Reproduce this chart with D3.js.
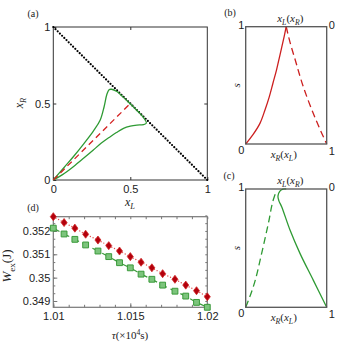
<!DOCTYPE html>
<html>
<head>
<meta charset="utf-8" />
<script src="https://d3js.org/d3.v7.min.js"></script>
<style>
  body { margin: 0; background: #fff; }
  .tick text { font-family: "Liberation Sans", Arial, sans-serif; fill: #222; }
</style>
</head>
<body>
<div id="fig"></div>
<script>
const serif = "'Liberation Serif', 'Times New Roman', serif";

// panel (a): closed green curve (xL, xR), red dashed symmetric branch, dotted limit
const loopXL = [0, 0.07, 0.13, 0.2, 0.26, 0.304, 0.33, 0.348, 0.362, 0.378, 0.413, 0.45, 0.489, 0.53, 0.565, 0.588, 0.604, 0.585, 0.543, 0.5, 0.456, 0.41, 0.37, 0.31, 0.26, 0.2, 0.13, 0.06, 0];
const loopXR = [0, 0.082, 0.152, 0.24, 0.32, 0.39, 0.479, 0.56, 0.59, 0.593, 0.578, 0.545, 0.508, 0.468, 0.432, 0.405, 0.372, 0.362, 0.359, 0.352, 0.338, 0.31, 0.283, 0.24, 0.196, 0.145, 0.087, 0.035, 0];
const symXL = [0, 0.5];
const symXR = [0, 0.5];
const limitXL = [0, 1];
const limitXR = [1, 0];

// panel (b): red, s against position
const bSolidX = [0, 0.09, 0.176, 0.238, 0.29, 0.337, 0.38, 0.42, 0.476, 0.5];
const bSolidS = [0, 0.08, 0.176, 0.29, 0.4, 0.52, 0.63, 0.75, 0.92, 1];
const bDashX = [0.5, 0.55, 0.61, 0.71, 0.835, 0.94, 1];
const bDashS = [1, 0.86, 0.72, 0.49, 0.26, 0.09, 0];

// panel (c): green
const cSolidX = [0.5, 0.46, 0.42, 0.398, 0.41, 0.444, 0.547, 0.67, 0.834, 1];
const cSolidS = [1, 0.998, 0.98, 0.94, 0.9, 0.85, 0.653, 0.456, 0.23, 0];
const cDashX = [0, 0.094, 0.197, 0.28, 0.353, 0.375];
const cDashS = [0, 0.174, 0.456, 0.71, 0.935, 0.975];

// panel (d): work against tau
const tau = [1.0100, 1.0107, 1.0114, 1.0121, 1.0129, 1.0136, 1.0143, 1.0150, 1.0157, 1.0164, 1.0171, 1.0179, 1.0186, 1.0193, 1.0200];
const wRed = [0.35261, 0.35236, 0.35212, 0.35186, 0.35161, 0.35137, 0.35114, 0.35090, 0.35066, 0.35042, 0.35017, 0.34993, 0.34968, 0.34944, 0.34918];
const wGreen = [0.35212, 0.35187, 0.35164, 0.35140, 0.35114, 0.35090, 0.35064, 0.35042, 0.35015, 0.34993, 0.34968, 0.34942, 0.34921, 0.34894, 0.34873];
const wTicks = [0.349, 0.35, 0.351, 0.352];
const tauTicks = [1.01, 1.015, 1.02];

const zip = (a, b) => a.map((v, i) => [v, b[i]]);

const svg = d3.select("#fig").append("svg")
  .attr("width", 347).attr("height", 347);

function mathText(g, parts, x, y, size, rot) {
  const t = g.append("text")
    .attr("font-family", serif)
    .attr("font-size", size)
    .attr("fill", "#222")
    .attr("text-anchor", "middle")
    .attr("transform", `translate(${x},${y})` + (rot ? " rotate(-90)" : ""));
  let shift = 0;
  parts.forEach(p => {
    const target = p.sub ? size * 0.28 : p.sup ? -size * 0.38 : 0;
    t.append("tspan")
      .attr("dy", target - shift)
      .attr("font-size", (p.sub || p.sup) ? size * 0.7 : size)
      .attr("font-style", p.i ? "italic" : "normal")
      .text(p.t);
    shift = target;
  });
  return t;
}

function plain(g, txt, x, y, anchor) {
  g.append("text")
    .attr("x", x).attr("y", y)
    .attr("dy", "0.35em")
    .attr("text-anchor", anchor || "middle")
    .attr("font-family", "'Liberation Sans', Arial, sans-serif")
    .attr("font-size", 11)
    .attr("fill", "#222")
    .text(txt);
}

function frame(g, x, y, color, w) {
  g.append("rect")
    .attr("x", x.range()[0]).attr("y", y.range()[1])
    .attr("width", x.range()[1] - x.range()[0])
    .attr("height", y.range()[0] - y.range()[1])
    .attr("fill", "none")
    .attr("stroke", color)
    .attr("stroke-width", w);
}

function styleAxis(a, color) {
  a.select(".domain").remove();
  a.selectAll(".tick line").attr("stroke", color);
  a.selectAll(".tick text").attr("font-size", 11);
}

const fmt = d => String(+d.toFixed(4));

// ---------- (a) ----------
{
  const x = d3.scaleLinear().domain([0, 1]).range([53.3, 207.3]);
  const y = d3.scaleLinear().domain([0, 1]).range([180, 27]);
  const g = svg.append("g");
  const line = d3.line().x(d => x(d[0])).y(d => y(d[1]));

  const ax = g.append("g").attr("transform", `translate(0,${y(0)})`)
    .call(d3.axisBottom(x).tickValues([0, 0.5, 1]).tickFormat(fmt).tickSizeInner(-3).tickSizeOuter(0).tickPadding(5));
  styleAxis(ax, "#333");
  const ay = g.append("g").attr("transform", `translate(${x(0)},0)`)
    .call(d3.axisLeft(y).tickValues([0, 0.5, 1]).tickFormat(fmt).tickSizeInner(-3).tickSizeOuter(0).tickPadding(3));
  styleAxis(ay, "#333");
  const at = g.append("g").attr("transform", `translate(0,${y(1)})`)
    .call(d3.axisTop(x).tickValues([0.5]).tickFormat("").tickSizeInner(-3).tickSizeOuter(0));
  styleAxis(at, "#333");
  const ar = g.append("g").attr("transform", `translate(${x(1)},0)`)
    .call(d3.axisRight(y).tickValues([0.5]).tickFormat("").tickSizeInner(-3).tickSizeOuter(0));
  styleAxis(ar, "#333");
  frame(g, x, y, "#333", 1);

  g.append("path").datum(zip(limitXL, limitXR))
    .attr("d", line).attr("fill", "none")
    .attr("stroke", "#000").attr("stroke-width", 2.2)
    .attr("stroke-linecap", "round").attr("stroke-dasharray", "0,3.1");

  g.append("path").datum(zip(loopXL, loopXR))
    .attr("d", line.curve(d3.curveCatmullRom.alpha(0.5)))
    .attr("fill", "none").attr("stroke", "#2e9a33").attr("stroke-width", 1.3);

  g.append("path").datum(zip(symXL, symXR))
    .attr("d", d3.line().x(d => x(d[0])).y(d => y(d[1])))
    .attr("fill", "none").attr("stroke", "#d42020").attr("stroke-width", 1.3)
    .attr("stroke-dasharray", "6,4");

  mathText(g, [{ t: "x", i: true }, { t: "L", i: true, sub: true }], 130, 206, 12);
  mathText(g, [{ t: "x", i: true }, { t: "R", i: true, sub: true }], 23, 103, 12, true);
  mathText(g, [{ t: "(a)" }], 33, 17, 10);
}

// ---------- (b) and (c) ----------
function sidePanel(y0, y1, solid, dashed, color, tag, tagX, tagY) {
  const x = d3.scaleLinear().domain([0, 1]).range([245.7, 326.7]);
  const y = d3.scaleLinear().domain([0, 1]).range([y1, y0]);
  const g = svg.append("g");
  const line = d3.line().x(d => x(d[0])).y(d => y(d[1]));

  g.append("path").datum(solid).attr("d", line.curve(d3.curveCatmullRom.alpha(0.5)))
    .attr("fill", "none").attr("stroke", color).attr("stroke-width", 1.3);
  g.append("path").datum(dashed).attr("d", line.curve(d3.curveMonotoneY))
    .attr("fill", "none").attr("stroke", color).attr("stroke-width", 1.3)
    .attr("stroke-dasharray", "7,4");
  frame(g, x, y, "#555", 1.3);

  plain(g, "1", x(0) - 4.5, y(1) - 2);
  plain(g, "0", x(0) - 4.5, y(0) + 6);
  plain(g, "0", x(1) + 5, y(1) - 2);
  plain(g, "1", x(1) + 5, y(0) + 7);

  mathText(g, [{ t: "x", i: true }, { t: "L", i: true, sub: true }, { t: "(" }, { t: "x", i: true }, { t: "R", i: true, sub: true }, { t: ")" }],
    x(0.55), y(1) - 5, 11);
  mathText(g, [{ t: "x", i: true }, { t: "R", i: true, sub: true }, { t: "(" }, { t: "x", i: true }, { t: "L", i: true, sub: true }, { t: ")" }],
    x(0.47), y(0) + 14, 11);
  mathText(g, [{ t: "s", i: true }], x(0) - 6, (y(0) + y(1)) / 2, 11, true);
  mathText(g, [{ t: tag }], tagX, tagY, 10);
}

sidePanel(26.7, 144, zip(bSolidX, bSolidS), zip(bDashX, bDashS), "#cc1f1f", "(b)", 230, 16);
sidePanel(189, 307.3, zip(cSolidX, cSolidS), zip(cDashX, cDashS), "#2e9a33", "(c)", 229, 179);

// ---------- (d) ----------
{
  const x = d3.scaleLinear().domain([1.01, 1.02]).range([53.3, 207.3]);
  const y = d3.scaleLinear().domain([0.34873, 0.35261]).range([307.3, 216.7]);
  const g = svg.append("g");
  const minorX = d3.range(1.01, 1.02001, 0.001);
  const minorY = d3.range(0.349, 0.3527, 0.001 / 3);

  const frameCol = "#777";
  const axes = [
    [d3.axisBottom(x).tickValues(tauTicks).tickFormat(fmt).tickSizeInner(-4).tickPadding(5), `translate(0,${y.range()[0]})`],
    [d3.axisBottom(x).tickValues(minorX).tickFormat("").tickSizeInner(-2.5), `translate(0,${y.range()[0]})`],
    [d3.axisTop(x).tickValues(minorX).tickFormat("").tickSizeInner(-2.5), `translate(0,${y.range()[1]})`],
    [d3.axisLeft(y).tickValues(wTicks).tickFormat(fmt).tickSizeInner(-4).tickPadding(3), `translate(${x.range()[0]},0)`],
    [d3.axisLeft(y).tickValues(minorY).tickFormat("").tickSizeInner(-2), `translate(${x.range()[0]},0)`],
    [d3.axisRight(y).tickValues(minorY).tickFormat("").tickSizeInner(-2), `translate(${x.range()[1]},0)`]
  ];
  axes.forEach(([ax, tr]) => {
    const a = g.append("g").attr("transform", tr).call(ax.tickSizeOuter(0));
    styleAxis(a, frameCol);
  });
  frame(g, x, y, frameCol, 1.2);

  const line = d3.line().x(d => x(d[0])).y(d => y(d[1]));

  g.append("path").datum(zip(tau, wRed)).attr("d", line)
    .attr("fill", "none").attr("stroke", "#e05050").attr("stroke-width", 1.4)
    .attr("stroke-linecap", "round").attr("stroke-dasharray", "0,3");
  g.append("path").datum(zip(tau, wGreen)).attr("d", line)
    .attr("fill", "none").attr("stroke", "#3a9a3a").attr("stroke-width", 1.2)
    .attr("stroke-dasharray", "7,4");

  const diamond = {
    draw(ctx, size) {
      const h = Math.sqrt(size) * 0.62, w = h * 0.75;
      ctx.moveTo(0, -h); ctx.lineTo(w, 0); ctx.lineTo(0, h); ctx.lineTo(-w, 0); ctx.closePath();
    }
  };

  g.selectAll(".sq").data(zip(tau, wGreen)).enter().append("path")
    .attr("class", "sq")
    .attr("transform", d => `translate(${x(d[0])},${y(d[1])})`)
    .attr("d", d3.symbol().type(d3.symbolSquare).size(34))
    .attr("fill", "#7cc47c").attr("stroke", "#3a9a3a").attr("stroke-width", 1);

  g.selectAll(".dm").data(zip(tau, wRed)).enter().append("path")
    .attr("class", "dm")
    .attr("transform", d => `translate(${x(d[0])},${y(d[1])})`)
    .attr("d", d3.symbol().type(diamond).size(42))
    .attr("fill", "#b3000c").attr("stroke", "#d02828").attr("stroke-width", 0.8);

  mathText(g, [{ t: "W", i: true }, { t: "ex", sub: true }, { t: "(J)" }], 11, 266, 13, true);
  mathText(g, [{ t: "τ", i: true }, { t: "(×10" }, { t: "4", sup: true }, { t: "s)" }], 130, 339, 11);
  mathText(g, [{ t: "(d)" }], 33, 211, 10);
}
</script>
</body>
</html>
